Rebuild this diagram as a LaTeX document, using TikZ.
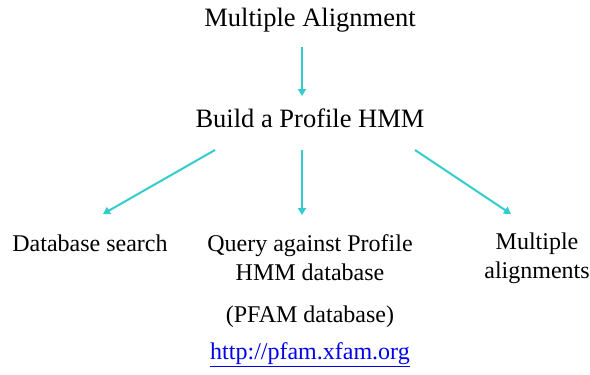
\documentclass[tikz,border=0pt]{standalone}
\usepackage{fontspec}
\setmainfont{Liberation Serif}
\usetikzlibrary{arrows.meta}
\definecolor{turq}{RGB}{51,204,204}
\definecolor{linkblue}{RGB}{0,0,238}
\begin{document}
\begin{tikzpicture}[x=1pt,y=-1pt,
  lbl/.style={font=\fontsize{24}{29}\selectfont, inner sep=0pt, align=center},
  big/.style={font=\fontsize{26.5}{30}\selectfont, inner sep=0pt},
  conn/.style={draw=turq, line width=2pt, -{Triangle[length=7pt,width=8pt]}}]
\useasboundingbox (0,0) rectangle (590,375);
\node[big] (ma) at (310,20) {Multiple Alignment};
\node[big] (bp) at (310,118) {Build a Profile HMM};
\node[lbl] (ds) at (90,243) {Database search};
\node[lbl] (qa) at (310,258) {Query against Profile\\HMM database};
\node[lbl] (mu) at (537,258) {Multiple\\alignments};
\node[lbl] (pf) at (310,317) {(PFAM database)};
\node[lbl, text=linkblue] (url) at (310,355) {\underline{http://pfam.xfam.org}};
\coordinate (a1s) at (302,47); \coordinate (a1e) at (302,96);
\coordinate (b1s) at (215,150); \coordinate (b1e) at (103,214);
\coordinate (b2s) at (302,150); \coordinate (b2e) at (302,215);
\coordinate (b3s) at (415,150); \coordinate (b3e) at (511,214);
\draw[conn] (a1s) -- (a1e);
\draw[conn] (b1s) -- (b1e);
\draw[conn] (b2s) -- (b2e);
\draw[conn] (b3s) -- (b3e);
\end{tikzpicture}
\end{document}
